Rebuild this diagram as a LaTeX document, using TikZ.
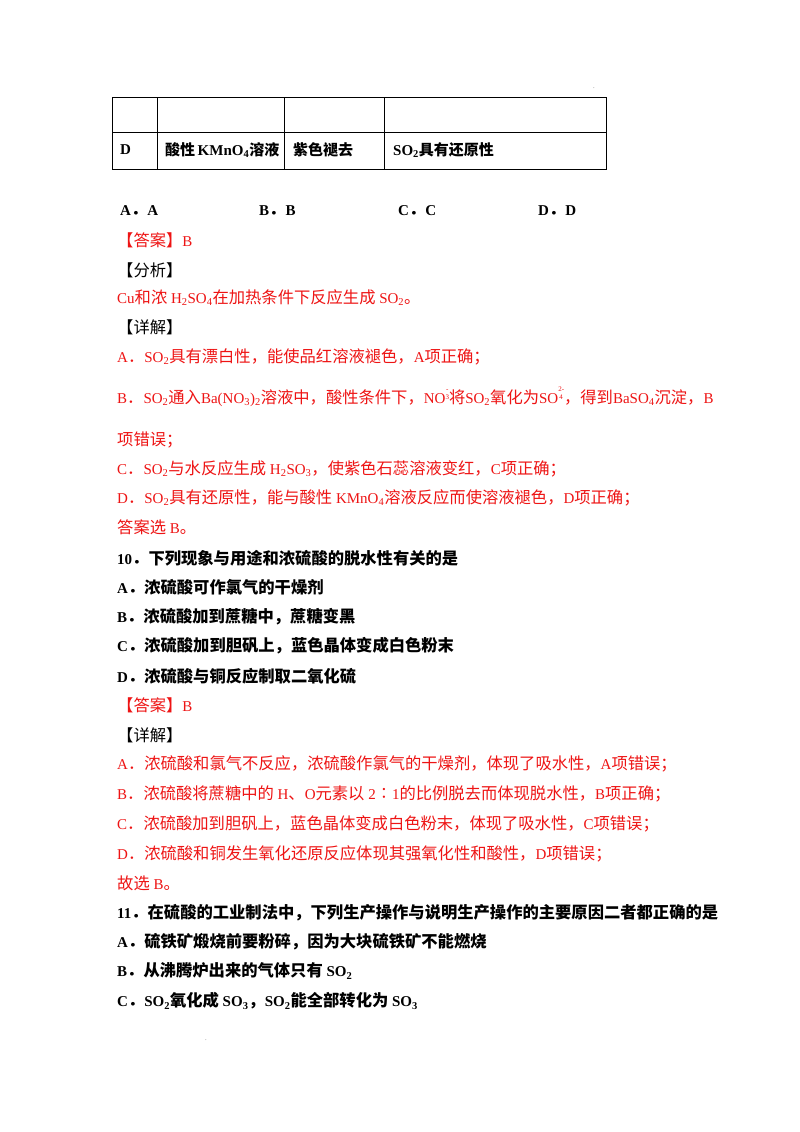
\documentclass[tikz,border=0pt]{standalone}
\usepackage{fontspec}
\setmainfont{Liberation Serif}
\newfontfamily\cjk{Noto Sans CJK SC}
\definecolor{ansred}{RGB}{238,20,20}
\newcommand{\zh}[1]{{\fontsize{16.3}{20}\selectfont\cjk #1}}
\newcommand{\zhs}[1]{{\fontsize{15}{20}\selectfont\cjk\bfseries #1}}
\newcommand{\stk}[2]{\raisebox{4pt}{\fontsize{7}{11}\selectfont\shortstack{#1\\#2}}}
\begin{document}
\begin{tikzpicture}[x=1pt,y=-1pt,
  t/.style={anchor=west,inner sep=0pt,font=\fontsize{15}{20}\selectfont},
  r/.style={t,text=ansred},
  b/.style={t,font=\fontsize{15}{20}\selectfont\bfseries},
  grid/.style={line width=1pt}]
\useasboundingbox (0,0) rectangle (800,1132);
\fill[white] (0,0) rectangle (800,1132);
% table
\draw[grid] (112,97) rectangle (606,169);
\draw[grid] (112,132) -- (606,132);
\foreach \x in {157,284,384} \draw[grid] (\x,97) -- (\x,169);
\node[b] (d0) at (120,150) {D};
\node[b] (d1) at (165,150) {\zhs{酸性}\,KMnO\textsubscript{4}\zhs{溶液}};
\node[b] (d2) at (293,150) {\zhs{紫色褪去}};
\node[b] (d3) at (393,150) {SO\textsubscript{2}\zhs{具有还原性}};
\node[font=\tiny,inner sep=0pt] (dot1) at (594,88) {.};
% options
\node[b] (oa) at (120,211) {A\zh{．}A};
\node[b] (ob) at (259,211) {B\zh{．}B};
\node[b] (oc) at (398,211) {C\zh{．}C};
\node[b] (od) at (538,211) {D\zh{．}D};
\node[r] (ans9) at (117,240) {\zh{【答案】}B};
\node[t] (fx) at (117,270) {\zh{【分析】}};
\node[r] (fx1) at (117,298) {Cu\zh{和浓} H\textsubscript{2}SO\textsubscript{4}\zh{在加热条件下反应生成} SO\textsubscript{2}\zh{。}};
\node[t] (xj) at (117,327) {\zh{【详解】}};
\node[r] (xa) at (117,357) {A\zh{．}SO\textsubscript{2}\zh{具有漂白性，能使品红溶液褪色，}A\zh{项正确；}};
\node[r] (xb) at (117,397) {B\zh{．}SO\textsubscript{2}\zh{通入}Ba(NO\textsubscript{3})\textsubscript{2}\zh{溶液中，酸性条件下，}NO\stk{-}{3}\zh{将}SO\textsubscript{2}\zh{氧化为}SO\stk{2-}{4}\zh{，得到}BaSO\textsubscript{4}\zh{沉淀，}B};
\node[r] (xb2) at (117,440) {\zh{项错误；}};
\node[r] (xc) at (117,469) {C\zh{．}SO\textsubscript{2}\zh{与水反应生成} H\textsubscript{2}SO\textsubscript{3}\zh{，使紫色石蕊溶液变红，}C\zh{项正确；}};
\node[r] (xd) at (117,498) {D\zh{．}SO\textsubscript{2}\zh{具有还原性，能与酸性} KMnO\textsubscript{4}\zh{溶液反应而使溶液褪色，}D\zh{项正确；}};
\node[r] (xs) at (117,527) {\zh{答案选} B\zh{。}};
% Q10
\node[b] (q10) at (117,558) {10\zh{\bfseries ．下列现象与用途和浓硫酸的脱水性有关的是}};
\node[b] (q10a) at (117,587) {A\zh{\bfseries ．浓硫酸可作氯气的干燥剂}};
\node[b] (q10b) at (117,617) {B\zh{\bfseries ．浓硫酸加到蔗糖中，蔗糖变黑}};
\node[b] (q10c) at (117,646) {C\zh{\bfseries ．浓硫酸加到胆矾上，蓝色晶体变成白色粉末}};
\node[b] (q10d) at (117,676) {D\zh{\bfseries ．浓硫酸与铜反应制取二氧化硫}};
\node[r] (ans10) at (117,705) {\zh{【答案】}B};
\node[t] (xj10) at (117,735) {\zh{【详解】}};
\node[r] (y10a) at (117,764) {A\zh{．浓硫酸和氯气不反应，浓硫酸作氯气的干燥剂，体现了吸水性，}A\zh{项错误；}};
\node[r] (y10b) at (117,794) {B\zh{．浓硫酸将蔗糖中的} H\zh{、}O\zh{元素以} 2\zh{∶}1\zh{的比例脱去而体现脱水性，}B\zh{项正确；}};
\node[r] (y10c) at (117,824) {C\zh{．浓硫酸加到胆矾上，蓝色晶体变成白色粉末，体现了吸水性，}C\zh{项错误；}};
\node[r] (y10d) at (117,854) {D\zh{．浓硫酸和铜发生氧化还原反应体现其强氧化性和酸性，}D\zh{项错误；}};
\node[r] (y10s) at (117,883) {\zh{故选} B\zh{。}};
% Q11
\node[b] (q11) at (117,913) {11\zh{\bfseries ．在硫酸的工业制法中，下列生产操作与说明生产操作的主要原因二者都正确的是}};
\node[b] (q11a) at (117,942) {A\zh{\bfseries ．硫铁矿煅烧前要粉碎，因为大块硫铁矿不能燃烧}};
\node[b] (q11b) at (117,971) {B\zh{\bfseries ．从沸腾炉出来的气体只有} SO\textsubscript{2}};
\node[b] (q11c) at (117,1001) {C\zh{\bfseries ．}SO\textsubscript{2}\zh{\bfseries 氧化成} SO\textsubscript{3}\zh{\bfseries ，}SO\textsubscript{2}\zh{\bfseries 能全部转化为} SO\textsubscript{3}};
\node[font=\tiny,inner sep=0pt] (dot2) at (206,1040) {.};
\end{tikzpicture}
\end{document}
